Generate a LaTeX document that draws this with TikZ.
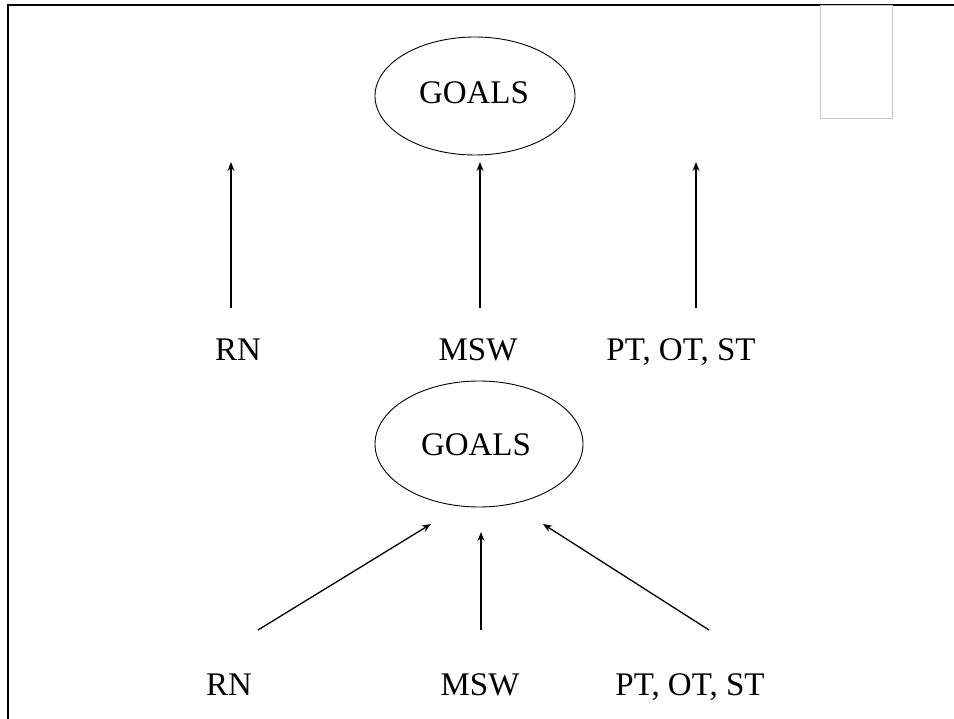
\documentclass[tikz,border=0pt]{standalone}
\usepackage{fontspec}
\setmainfont{Liberation Serif}
\usetikzlibrary{arrows.meta,shapes.geometric}
\begin{document}
\begin{tikzpicture}[x=1pt,y=-1pt,
  goal/.style={draw,ellipse,line width=0.9pt,minimum width=#1,inner sep=0pt},
  lbl/.style={font=\fontsize{33}{38}\selectfont,inner sep=0pt,anchor=base},
  arr/.style={line width=1.3pt,-{Stealth[length=9pt,width=7pt]}},
  frame/.style={line width=2pt}]
\useasboundingbox (0,0) rectangle (954,719);
% frame
\coordinate (ftr) at (954,5);
\coordinate (ftl) at (8,5);
\coordinate (fbl) at (8,719);
\draw[frame] (ftr) -- (ftl) -- (fbl);
% grey box
\draw[line width=1pt,draw={rgb,255:red,200;green,200;blue,200}] (820,6) rectangle (892,119);
% top part
\node[goal=200pt,minimum height=118pt] (g1) at (475,96) {};
\node[lbl] (g1t) at (474,104) {GOALS};
\node[lbl] (rn1) at (238,361) {RN};
\node[lbl] (msw1) at (478,361) {MSW};
\node[lbl] (pt1) at (681,361) {PT, OT, ST};
\coordinate (a1s) at (231,308); \coordinate (a1e) at (231,162);
\coordinate (a2s) at (480,308); \coordinate (a2e) at (480,162);
\coordinate (a3s) at (696,308); \coordinate (a3e) at (696,162);
\draw[arr] (a1s) -- (a1e);
\draw[arr] (a2s) -- (a2e);
\draw[arr] (a3s) -- (a3e);
% bottom part
\node[goal=208pt,minimum height=126pt] (g2) at (479,444) {};
\node[lbl] (g2t) at (476,456) {GOALS};
\node[lbl] (rn2) at (229,695) {RN};
\node[lbl] (msw2) at (480,695) {MSW};
\node[lbl] (pt2) at (690,695) {PT, OT, ST};
\coordinate (b1s) at (258,630); \coordinate (b1e) at (431,524);
\coordinate (b2s) at (481,630); \coordinate (b2e) at (481,532);
\coordinate (b3s) at (709,630); \coordinate (b3e) at (543,524);
\draw[arr] (b1s) -- (b1e);
\draw[arr] (b2s) -- (b2e);
\draw[arr] (b3s) -- (b3e);
\end{tikzpicture}
\end{document}
